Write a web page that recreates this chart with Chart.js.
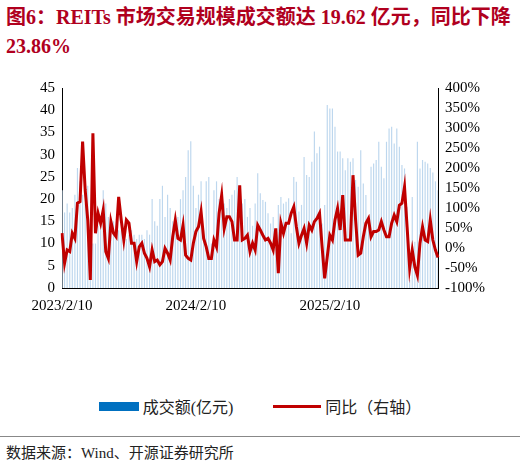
<!DOCTYPE html>
<html><head><meta charset="utf-8">
<script src="https://cdn.jsdelivr.net/npm/chart.js@4"></script>
<style>
body{margin:0;width:520px;height:467px;background:#fff;font-family:"Liberation Serif","Noto Sans CJK SC",serif;position:relative;overflow:hidden}
#title{position:absolute;left:6px;top:3px;width:508px;font-size:20px;font-weight:bold;color:#B0001E;line-height:29px}
#wrap{position:absolute;left:0;top:70px;width:520px;height:260px}
#legend{position:absolute;top:394px;left:0;width:520px;text-align:center;font-size:16px;color:#222}
.lg{display:inline-block;vertical-align:middle}
#src{position:absolute;left:6px;top:441px;font-size:15px;color:#222}
#rule{position:absolute;left:0;top:436px;width:520px;border-top:1px solid #888}
</style></head><body>
<div id="title">图6：REITs 市场交易规模成交额达 19.62 亿元，同比下降 23.86%</div>
<div id="wrap"><canvas id="js--chart"></canvas></div>
<div id="legend"><span class="lg" style="width:40px;height:9px;background:#0070C0"></span> <span class="lg">成交额(亿元)</span><span class="lg" style="width:40px"></span><span class="lg" style="width:48px;height:3px;background:#C00000"></span> <span class="lg">同比（右轴）</span></div>
<div id="rule"></div>
<div id="src">数据来源：Wind、开源证券研究所</div>
<script>
const tickLabels = ["2023/2/10", "2024/2/10", "2025/2/10"]
const tickIndex = [0, 52, 104]

const turnover = [
    22,17,19,17,18,21,27,24,21,19,23,14,10,10,14,15,22,19,16,14,15,
    14,13,13,11,11,12,13,12,11,12,12,11,13,12,20,15,14,20,23,16,
    21,18,15,14,16,20,22,25,31,33,23,18,21,24,13,
    24,25,10,22,24,20,17,19,18,20,21,22,25,23,19,20,16,18,14,19,
    25.8,21.3,19.8,19.4,16.8,14.5,16,10.4,18.7,20.5,19,19.4,20.2,12.3,25,23.9,17.2,18.7,29.5,25.4,
    25,28.4,35.2,30.3,31.8,14.5,18.7,41.2,40.4,40.4,36.3,30.7,30.7,29.2,26.5,29.2,28.4,29.2,24.3,22.8,
    31,23.5,20.9,15.3,27.3,28,28.8,32.9,27.3,24.7,32.9,35.9,36.3,32.5,35.9,31.8,27.7,26.9,18.3,1.8,
    20.5,10.4,32.9,26.9,28.8,28.4,28,27,26,24,22
]

const yoy = [
    37,-38,-5,-9,37,24,112,116,266,145,
    70,-80,287,37,87,62,95,-9,-26,66,
    37,28,128,70,20,70,62,12,12,-34,
    3,12,-13,-26,-47,-5,-34,-30,-42,-34,
    -1,-13,-30,28,70,24,20,57,-18,-26,
    -30,12,41,53,91,24,3,-26,-26,20,
    3,87,132,49,78,78,66,20,20,157,
    20,24,32,-9,12,
    -5,57,45,32,20,24,12,-5,49,-63,
    62,37,62,62,87,103,53,12,32,49,
    12,57,45,66,74,87,3,-76,-22,32,
    20,70,99,45,132,20,20,20,182,70,
    -18,-13,28,62,74,28,41,41,45,66,
    45,28,28,62,82,66,107,112,153,53,
    -51,-5,-47,-68,12,53,20,16,70,20,
    -5,-24
]

const labels = yoy.map((v, i) => {
    const k = tickIndex.indexOf(i)
    return k >= 0 ? tickLabels[k] : ""
})

const font = {family: "'Liberation Serif', serif", size: 15}

new Chart(document.getElementById("js--chart"), {
    data: {
        labels: labels,
        datasets: [
            {type: "line", label: "同比（右轴）", data: yoy, yAxisID: "y1", borderColor: "#C00000", borderWidth: 3, pointRadius: 0, tension: 0},
            {type: "bar", label: "成交额(亿元)", data: turnover, yAxisID: "y", backgroundColor: "#BDD7EE", categoryPercentage: 1, barPercentage: 0.45}
        ]
    },
    options: {
        responsive: true,
        maintainAspectRatio: false,
        animation: false,
        layout: {padding: {top: 18, left: 0, right: 0, bottom: 0}},
        plugins: {legend: {display: false}, tooltip: {enabled: false}},
        scales: {
            x: {
                offset: false,
                grid: {display: false, drawTicks: true, tickLength: 5, color: "#000"},
                border: {color: "#000"},
                ticks: {autoSkip: false, maxRotation: 0, color: "#000", font: font, padding: 4,
                    callback: function(v, i) { return labels[i] }},
                afterFit: s => { s.height = 42 }
            },
            y: {
                position: "left", min: 0, max: 45,
                grid: {display: false, drawTicks: true, tickLength: 5},
                border: {color: "#000"},
                ticks: {stepSize: 5, autoSkip: false, color: "#000", font: font, padding: 2},
                afterFit: s => { s.width = 62 }
            },
            y1: {
                position: "right", min: -100, max: 400,
                grid: {display: false, drawTicks: true, tickLength: 5},
                border: {color: "#000"},
                ticks: {stepSize: 50, autoSkip: false, color: "#000", font: font, padding: 2, callback: v => v + "%"},
                afterFit: s => { s.width = 82 }
            }
        }
    }
})
</script>
</body></html>
